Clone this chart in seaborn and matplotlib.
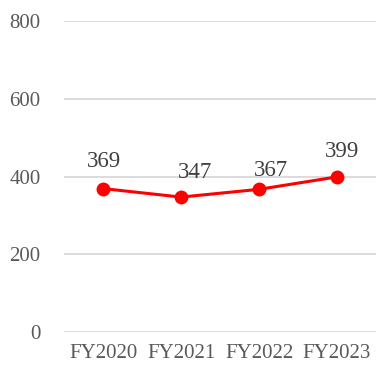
import matplotlib
matplotlib.use("Agg")
import matplotlib.pyplot as plt
import seaborn as sns
import pandas as pd

years = ["FY2020", "FY2021", "FY2022", "FY2023"]
values = [369, 347, 367, 399]
y_ticks = [0, 200, 400, 600, 800]

# label offsets in pixels (dx, dy) to mimic placement
label_offsets = [(1, 27), (14, 25), (12, 19), (5, 25)]

sns.set_theme(style="white")
plt.rcParams["font.family"] = ["Liberation Serif", "DejaVu Serif"]

df = pd.DataFrame({"year": years, "value": values})

fig = plt.figure(figsize=(3.76, 3.69), dpi=100)
ax = fig.add_axes([64 / 376, 37 / 369, 1 - 64 / 376, 311 / 369])

sns.lineplot(data=df, x="year", y="value", ax=ax, color="#FF0000",
             linewidth=2.2, marker="o", markersize=10, markeredgewidth=0, zorder=3)

ax.set_ylim(0, 800)
ax.set_xlim(-0.5, len(years) - 0.5)
ax.set_yticks(y_ticks)
ax.set_yticklabels([str(t) for t in y_ticks])
ax.yaxis.grid(True, color="#D9D9D9", linewidth=1.3)
ax.xaxis.grid(False)
ax.set_axisbelow(True)
for s in ax.spines.values():
    s.set_visible(False)
ax.set_xlabel("")
ax.set_ylabel("")
ax.tick_params(axis="y", length=0, pad=17, labelsize=15, labelcolor="#595959")
ax.tick_params(axis="x", length=0, pad=9, labelsize=15, labelcolor="#595959")

for i, (v, (dx, dy)) in enumerate(zip(values, label_offsets)):
    ax.annotate(str(v), (i, v), xytext=(dx * 0.72, dy * 0.72), textcoords="offset points",
                ha="center", va="center", fontsize=16.5, color="#404040")

fig.savefig("out.png", dpi=100)
